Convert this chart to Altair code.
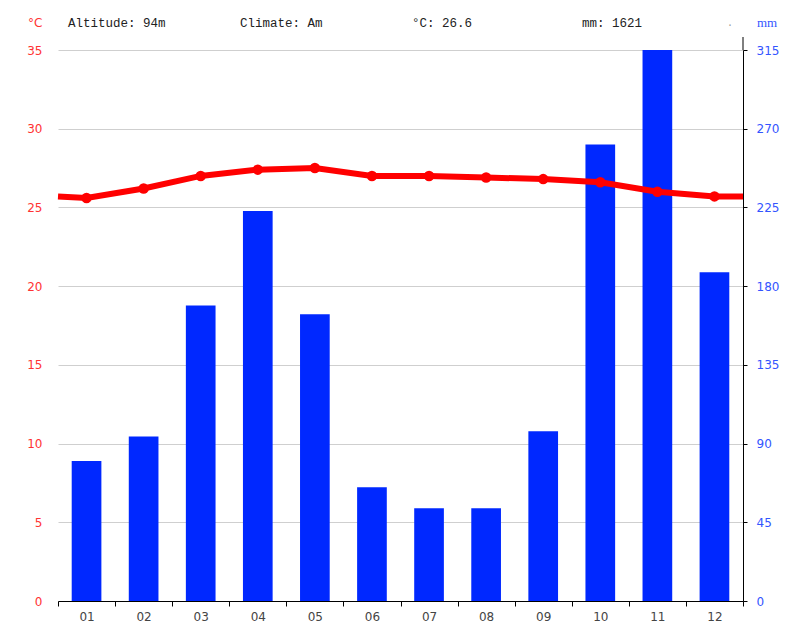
import altair as alt
import pandas as pd

months = ["01", "02", "03", "04", "05", "06", "07", "08", "09", "10", "11", "12"]
precip_mm = [80, 94, 169, 223, 164, 65, 53, 53, 97, 261, 315, 188]
temp_c = [25.6, 26.2, 27.0, 27.4, 27.5, 27.0, 27.0, 26.9, 26.8, 26.6, 26.0, 25.7]
temp_left_edge = 25.7
temp_right_edge = 25.7
temp_ticks = [0, 5, 10, 15, 20, 25, 30, 35]
mm_ticks = [0, 45, 90, 135, 180, 225, 270, 315]
header_texts = ["Altitude: 94m", "Climate: Am", "°C: 26.6", "mm: 1621"]

W, H = 685, 551
BLUE = "#0028ff"
RED = "#ff0000"

bars_df = pd.DataFrame({"month": months, "mm": precip_mm})
pts_df = pd.DataFrame({"pos": [i + 0.5 for i in range(12)], "temp": temp_c})
line_df = pd.DataFrame({
    "pos": [0] + [i + 0.5 for i in range(12)] + [12],
    "temp": [temp_left_edge] + temp_c + [temp_right_edge],
})

bars = alt.Chart(bars_df).mark_bar(color=BLUE, width=alt.RelativeBandSize(0.52)).encode(
    x=alt.X("month:O", sort=months,
            scale=alt.Scale(paddingInner=0, paddingOuter=0),
            axis=alt.Axis(title=None, tickBand="extent", labelAngle=0,
                          domainColor="black", tickColor="black", tickSize=5,
                          labelColor="#444444", labelFontSize=12, labelPadding=5,
                          labelFont="DejaVu Sans")),
    y=alt.Y("mm:Q", scale=alt.Scale(domain=[0, 315], nice=False, zero=True),
            axis=alt.Axis(orient="right", values=mm_ticks, title=None, grid=False,
                          domainColor="black", tickColor="black", tickSize=4,
                          labelColor="#3355ff", labelPadding=9, labelFontSize=12,
                          labelFont="DejaVu Sans")),
)

x_line = alt.X("pos:Q", scale=alt.Scale(domain=[0, 12], nice=False, zero=False), axis=None)
y_temp = alt.Y("temp:Q", scale=alt.Scale(domain=[0, 35], nice=False, zero=True),
               axis=alt.Axis(orient="left", values=temp_ticks, title=None, grid=True,
                             gridColor="#cfcfcf", domain=False, ticks=False,
                             labelColor="#ff3333", labelPadding=16, labelFontSize=12,
                             labelFont="DejaVu Sans"))

line = alt.Chart(line_df).mark_line(color=RED, strokeWidth=6).encode(x=x_line, y=y_temp)
pts = alt.Chart(pts_df).mark_circle(color=RED, size=110, opacity=1).encode(x=x_line, y=y_temp)
temp_layer = alt.layer(line, pts)

texts = []
header_x = [10, 182, 354, 524]
for s, xp in zip(header_texts, header_x):
    texts.append(
        alt.Chart(pd.DataFrame({"t": [s]})).mark_text(
            align="left", baseline="middle", font="Liberation Mono", fontSize=12.5,
            color="#222222").encode(x=alt.value(xp), y=alt.value(-27), text="t:N")
    )
texts.append(
    alt.Chart(pd.DataFrame({"t": ["°C"]})).mark_text(
        align="left", baseline="middle", font="DejaVu Sans", fontSize=12,
        color="#ff3333").encode(x=alt.value(-30), y=alt.value(-27), text="t:N")
)
texts.append(
    alt.Chart(pd.DataFrame({"t": ["mm"]})).mark_text(
        align="left", baseline="middle", font="Liberation Serif", fontSize=13,
        color="#3355ff").encode(x=alt.value(699), y=alt.value(-27), text="t:N")
)
texts.append(
    alt.Chart(pd.DataFrame({"t": ["."]})).mark_text(
        align="left", baseline="middle", font="Liberation Mono", fontSize=10,
        color="#999999").encode(x=alt.value(669), y=alt.value(-27), text="t:N")
)

axis_ext = alt.Chart(pd.DataFrame({"a": [0]})).mark_rule(color="black", strokeWidth=1).encode(
    x=alt.value(W), y=alt.value(-13), y2=alt.value(0)
)

chart = alt.layer(bars, temp_layer, axis_ext, *texts).resolve_scale(
    x="independent", y="independent"
).properties(
    width=W, height=H,
    autosize=alt.AutoSizeParams(type="none"),
    padding={"left": 58, "top": 50, "right": 61, "bottom": 41},
    background="white",
).configure_view(stroke=None)

chart.save("out.html", embed_options={"renderer": "svg", "actions": False})
